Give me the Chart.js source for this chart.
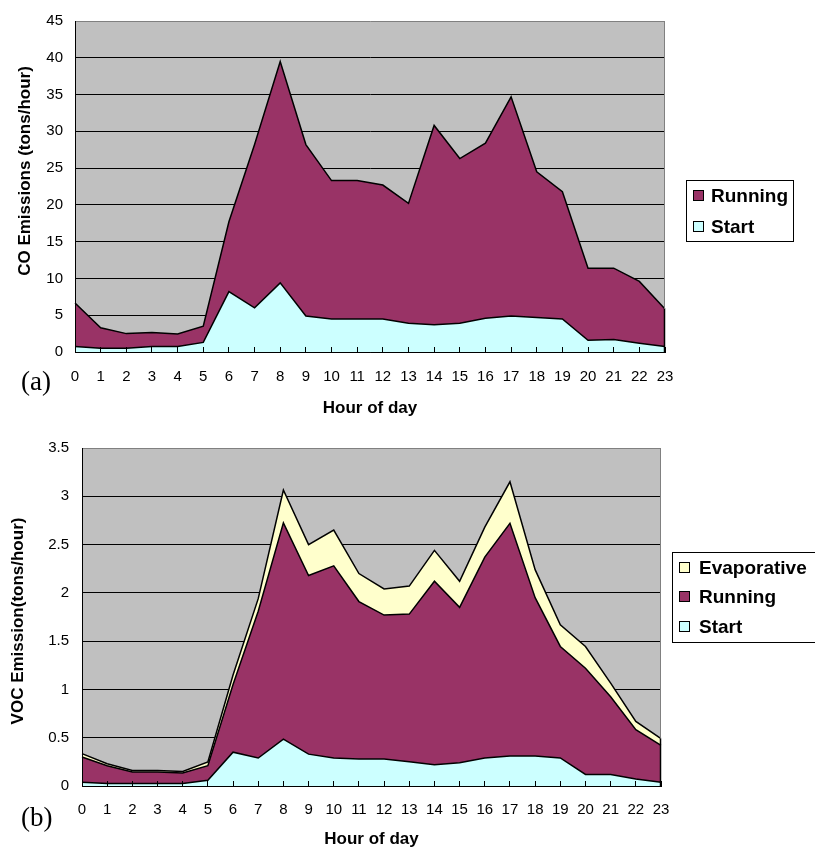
<!DOCTYPE html>
<html><head><meta charset="utf-8">
<script src="https://cdn.jsdelivr.net/npm/chart.js@4.4.1/dist/chart.umd.min.js"></script>
<style>
html,body{margin:0;padding:0;background:#fff;}
#wrap{position:relative;width:815px;height:850px;overflow:hidden;}
.cv{position:absolute;left:0;width:815px;}
.tag{position:absolute;font-family:'Liberation Serif','Times New Roman',serif;font-size:27px;line-height:30px;color:#000;}
</style></head><body>
<div id="wrap">
<div class="cv" style="top:0;height:420px"><canvas id="co" width="815" height="420"></canvas></div>
<div class="cv" style="top:420px;height:430px"><canvas id="voc" width="815" height="430"></canvas></div>
<div class="tag" style="left:21px;top:366px">(a)</div>
<div class="tag" style="left:21px;top:802px">(b)</div>
</div>
<script>
// ---- data ----
const hours = ['0','1','2','3','4','5','6','7','8','9','10','11','12','13','14','15','16','17','18','19','20','21','22','23'];

const coStart   = [0.76,0.5,0.5,0.76,0.76,1.3,8.2,6.0,9.4,4.9,4.5,4.5,4.5,3.9,3.7,3.9,4.6,4.9,4.7,4.5,1.6,1.7,1.2,0.76];
const coRunning = [5.9,2.8,2.0,1.9,1.7,2.2,9.5,22.2,30.1,23.3,18.8,18.8,18.2,16.3,27.1,22.4,23.8,29.8,19.8,17.3,9.8,9.7,8.4,5.1];

const vocStart       = [0.04,0.025,0.025,0.025,0.025,0.06,0.35,0.29,0.485,0.33,0.29,0.28,0.28,0.25,0.22,0.24,0.29,0.31,0.31,0.29,0.12,0.12,0.073,0.04];
const vocRunning     = [0.26,0.185,0.12,0.12,0.11,0.15,0.70,1.52,2.24,1.85,1.99,1.63,1.49,1.53,1.90,1.61,2.08,2.41,1.64,1.155,1.10,0.805,0.51,0.38];
const vocEvaporative = [0.035,0.02,0.015,0.015,0.015,0.04,0.10,0.13,0.34,0.32,0.37,0.29,0.27,0.29,0.32,0.27,0.31,0.43,0.29,0.225,0.225,0.14,0.085,0.07];

const coTickLabels  = ['0','5','10','15','20','25','30','35','40','45'];
const vocTickLabels = ['0','0.5','1','1.5','2','2.5','3','3.5'];

// ---- styling ----
const C_START = '#CCFFFF', C_RUN = '#993366', C_EVAP = '#FFFFCC', C_BG = '#C0C0C0';
Chart.defaults.font.family = '"Liberation Sans", Arial, sans-serif';
Chart.defaults.color = '#000';

const frame = {
  id: 'frame',
  beforeDraw(chart) {
    const {ctx, chartArea: a} = chart;
    ctx.save();
    ctx.fillStyle = C_BG;
    ctx.fillRect(a.left, a.top, a.right - a.left, a.bottom - a.top);
    ctx.restore();
  },
  afterDatasetsDraw(chart) {
    const {ctx, chartArea: a} = chart;
    const ys = chart.scales.y;
    const n = chart.data.labels.length - 1;
    let sum = 0;
    chart.data.datasets.forEach(d => sum += d.data[n]);
    const top = ys.getPixelForValue(sum);
    const x = Math.round(a.right) - 0.5;
    ctx.save();
    ctx.lineWidth = 1;
    ctx.strokeStyle = '#808080';
    ctx.beginPath(); ctx.moveTo(x, a.top); ctx.lineTo(x, top); ctx.stroke();
    ctx.strokeStyle = '#000'; ctx.lineWidth = 1.5;
    ctx.beginPath(); ctx.moveTo(x, top); ctx.lineTo(x, a.bottom); ctx.stroke();
    ctx.restore();
  }
};

const sideTitle = {
  id: 'sideTitle',
  afterDraw(chart, args, o) {
    const ctx = chart.ctx;
    ctx.save();
    ctx.translate(o.x, o.y);
    ctx.rotate(-Math.PI / 2);
    ctx.font = 'bold 17px "Liberation Sans", Arial, sans-serif';
    ctx.fillStyle = '#000';
    ctx.textAlign = 'center';
    ctx.textBaseline = 'middle';
    ctx.fillText(o.text, 0, 0);
    ctx.restore();
  }
};

const boxLegend = {
  id: 'boxLegend',
  afterDraw(chart, args, o) {
    const ctx = chart.ctx;
    ctx.save();
    ctx.fillStyle = '#fff';
    ctx.fillRect(o.x, o.y, o.w, o.h);
    ctx.strokeStyle = '#000'; ctx.lineWidth = 1;
    ctx.strokeRect(o.x + 0.5, o.y + 0.5, o.w, o.h);
    ctx.font = 'bold 19px "Liberation Sans", Arial, sans-serif';
    ctx.textBaseline = 'middle';
    const items = chart.data.datasets.slice().reverse();
    items.forEach((d, i) => {
      const cy = Math.round(o.y + o.first + i * o.rowH);
      ctx.fillStyle = d.backgroundColor;
      ctx.fillRect(o.x + 7.5, cy - 5.5, 10, 10);
      ctx.strokeStyle = '#000';
      ctx.strokeRect(o.x + 7.5, cy - 5.5, 10, 10);
      ctx.fillStyle = '#000';
      ctx.fillText(d.label, o.x + o.tx, cy + 1);
    });
    ctx.restore();
  }
};

function ds(label, data, color, fill) {
  return {label, data, backgroundColor: color, borderColor: '#000', borderWidth: 1.5,
          fill, pointRadius: 0, pointHoverRadius: 0, tension: 0};
}

function makeChart(id, datasets, cfg) {
  return new Chart(document.getElementById(id), {
    type: 'line',
    data: {labels: hours, datasets},
    plugins: [frame, boxLegend, sideTitle],
    options: {
      responsive: false,
      animation: false,
      devicePixelRatio: 1,
      events: [],
      layout: {padding: cfg.padding},
      plugins: {
        legend: {display: false},
        tooltip: {enabled: false},
        boxLegend: cfg.legend,
        sideTitle: cfg.yTitle
      },
      scales: {
        x: {
          offset: false,
          afterFit: s => { s.height = cfg.xHeight; },
          grid: {drawOnChartArea: false, drawTicks: true, tickLength: -5, color: '#000', lineWidth: 1, z: 1},
          border: {display: true, color: '#000', width: 1, z: 1},
          ticks: {autoSkip: false, maxRotation: 0, minRotation: 0, padding: cfg.xTickPad,
                  font: {size: 15}, color: '#000'},
          title: {display: true, text: 'Hour of day', font: {size: 17, weight: 'bold'},
                  color: '#000', padding: {top: 0, bottom: cfg.xTitlePad}}
        },
        y: {
          stacked: true,
          min: 0, max: cfg.max,
          afterFit: s => { s.width = cfg.yWidth; },
          grid: {drawTicks: false, lineWidth: 1,
                 color: c => (c.tick && c.tick.value === cfg.max) ? '#808080' : '#000'},
          border: {display: true, color: '#000', width: 1, z: 1},
          ticks: {stepSize: cfg.step, padding: cfg.yTickPad, font: {size: 15}, color: '#000',
                  callback: (v, i) => cfg.tickLabels[i]},
          title: {display: false}
        }
      }
    }
  });
}

makeChart('co', [
  ds('Start', coStart, C_START, 'origin'),
  ds('Running', coRunning, C_RUN, '-1')
], {
  padding: {left: 0, right: 150, top: 16, bottom: 0},
  xHeight: 68, yWidth: 75, xTickPad: 21, xTitlePad: 1, yTickPad: 12,
  max: 45, step: 5, tickLabels: coTickLabels,
  yTitle: {text: 'CO Emissions (tons/hour)', x: 25, y: 171},
  legend: {x: 686, y: 180, w: 107, h: 61, first: 16, rowH: 30.5, tx: 25}
});

makeChart('voc', [
  ds('Start', vocStart, C_START, 'origin'),
  ds('Running', vocRunning, C_RUN, '-1'),
  ds('Evaporative', vocEvaporative, C_EVAP, '-1')
], {
  padding: {left: 0, right: 154, top: 28, bottom: 0},
  xHeight: 64, yWidth: 82, xTickPad: 20, xTitlePad: 0, yTickPad: 13,
  max: 3.5, step: 0.5, tickLabels: vocTickLabels,
  yTitle: {text: 'VOC Emission(tons/hour)', x: 18, y: 201},
  legend: {x: 672, y: 132, w: 150, h: 90, first: 15.5, rowH: 29.8, tx: 27}
});
</script>
</body></html>
